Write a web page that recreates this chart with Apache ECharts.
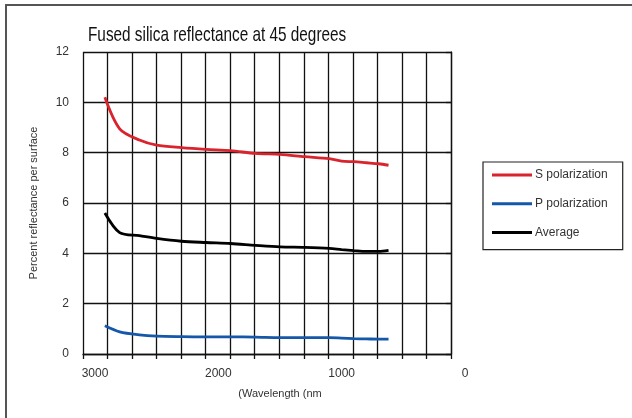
<!DOCTYPE html>
<html><head><meta charset="utf-8">
<script src="https://cdn.jsdelivr.net/npm/echarts@6/dist/echarts.min.js"></script>
<style>html,body{margin:0;padding:0;background:#fff}#c{width:632px;height:418px}</style>
</head><body><div id="c"></div>
<script>
const wavelengths = [2920, 2800, 2640, 2500, 2300, 2100, 1900, 1700, 1500, 1300, 1100, 1000, 900, 800, 700, 620];
const sPolarization = [10.2, 8.95, 8.5, 8.3, 8.2, 8.13, 8.08, 7.97, 7.93, 7.84, 7.76, 7.66, 7.64, 7.6, 7.56, 7.5];
const pPolarization = [1.12, 0.88, 0.76, 0.71, 0.69, 0.68, 0.68, 0.67, 0.65, 0.65, 0.65, 0.63, 0.61, 0.6, 0.59, 0.59];
const average = [5.6, 4.82, 4.7, 4.59, 4.48, 4.43, 4.39, 4.32, 4.26, 4.24, 4.2, 4.15, 4.11, 4.08, 4.08, 4.12];
const seriesNames = ['S polarization', 'P polarization', 'Average'];
const xTickLabels = [0, 1000, 2000, 3000];
const yTickLabels = [0, 2, 4, 6, 8, 10, 12];
const titleText = 'Fused silica reflectance at 45 degrees';

const pair = arr => wavelengths.map((w, i) => [w, arr[i]]);
const chart = echarts.init(document.getElementById('c'));
const lineCol = '#111';
const font = '"Liberation Sans", Arial, sans-serif';
chart.setOption({
  backgroundColor: '#fff',
  animation: false,
  graphic: [
    {type: 'polyline', shape: {points: [[6, 418], [6, 5], [632, 5]]}, style: {stroke: '#555', lineWidth: 2, fill: null}},
    {type: 'text', x: 88, y: 25, scaleX: 0.73, style: {text: titleText, fontFamily: font, fontSize: 21, fill: '#111'}}
  ],
  legend: {
    orient: 'vertical', left: 483, top: 162,
    data: seriesNames,
    icon: 'rect',
    itemWidth: 40, itemHeight: 3, itemGap: 16.8,
    padding: [7, 15, 11, 9],
    borderColor: '#222', borderWidth: 1.2,
    textStyle: {fontFamily: font, fontSize: 12, color: '#333', padding: [0, 0, 0, -2]}
  },
  grid: [
    {left: 83, right: 181, top: 52, bottom: 64},
    {left: 95, right: 167, top: 52, bottom: 64}
  ],
  xAxis: [
    {gridIndex: 0, type: 'value', min: 0, max: 3000, interval: 200, inverse: true,
     axisLabel: {show: false},
     axisLine: {show: true, lineStyle: {color: lineCol, width: 1.3}},
     axisTick: {show: true, length: 5, lineStyle: {color: lineCol, width: 1.3}},
     splitLine: {show: true, lineStyle: {color: lineCol, width: 1.3}}},
    {gridIndex: 1, type: 'value', min: 0, max: 3000, interval: 1000, inverse: true,
     name: '(Wavelength (nm', nameLocation: 'middle', nameGap: 34,
     nameTextStyle: {fontFamily: font, fontSize: 11, color: '#333'},
     axisLabel: {show: true, margin: 14, fontFamily: font, fontSize: 12, color: '#333',
       formatter: v => xTickLabels.includes(v) ? String(v) : ''},
     axisLine: {show: false}, axisTick: {show: false}, splitLine: {show: false}}
  ],
  yAxis: [
    {gridIndex: 0, type: 'value', min: 0, max: 12, interval: 2,
     name: 'Percent reflectance per surface', nameLocation: 'middle', nameGap: 44,
     nameTextStyle: {fontFamily: font, fontSize: 11, color: '#333'},
     axisLabel: {margin: 14, fontFamily: font, fontSize: 12, color: '#333',
       formatter: v => yTickLabels.includes(v) ? String(v) : ''},
     axisLine: {show: true, lineStyle: {color: lineCol, width: 1.3}},
     axisTick: {show: true, length: 5, lineStyle: {color: lineCol, width: 1.3}},
     splitLine: {show: true, lineStyle: {color: lineCol, width: 1.3}}},
    {gridIndex: 1, type: 'value', min: 0, max: 12, show: false, splitLine: {show: false}}
  ],
  series: [
    {name: seriesNames[0], type: 'line', xAxisIndex: 1, yAxisIndex: 1, data: pair(sPolarization), symbol: 'none', smooth: 0.3,
     lineStyle: {color: '#d9232d', width: 2.8}, itemStyle: {color: '#d9232d'}},
    {name: seriesNames[1], type: 'line', xAxisIndex: 1, yAxisIndex: 1, data: pair(pPolarization), symbol: 'none', smooth: 0.3,
     lineStyle: {color: '#1557a8', width: 2.8}, itemStyle: {color: '#1557a8'}},
    {name: seriesNames[2], type: 'line', xAxisIndex: 1, yAxisIndex: 1, data: pair(average), symbol: 'none', smooth: 0.3,
     lineStyle: {color: '#000', width: 2.8}, itemStyle: {color: '#000'}}
  ]
});
</script></body></html>
